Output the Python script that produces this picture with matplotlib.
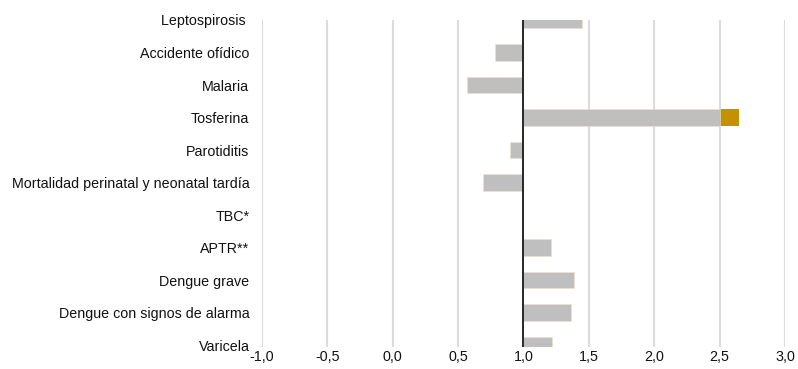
import matplotlib
matplotlib.use("Agg")
import matplotlib.pyplot as plt
from matplotlib.ticker import FuncFormatter

plt.rcParams['font.family'] = ['Liberation Sans', 'DejaVu Sans']

# Razón observado/esperado por evento
eventos = [
    "Leptospirosis ",
    "Accidente ofídico",
    "Malaria",
    "Tosferina",
    "Parotiditis",
    "Mortalidad perinatal y neonatal tardía",
    "TBC*",
    "APTR**",
    "Dengue grave",
    "Dengue con signos de alarma",
    "Varicela",
]
razon = [1.45, 0.78, 0.57, 2.65, 0.90, 0.69, 0.995, 1.21, 1.39, 1.36, 1.22]
limite_gris = 2.5   # por encima de este valor la barra se resalta
referencia = 1.0
xticks = [-1.0, -0.5, 0.0, 0.5, 1.0, 1.5, 2.0, 2.5, 3.0]

gris = "#bfbfbf"
dorado = "#c49200"
borde = "#ebe2c8"

fig = plt.figure(figsize=(7.98, 3.69), dpi=100)
ax = fig.add_axes([0.3283, 0.0588, 0.6554, 0.887])

pos = list(range(len(eventos)))
alto = 0.51

# Parte resaltada (sobre el límite)
for y, v in zip(pos, razon):
    if v > limite_gris:
        ax.barh(y, v - limite_gris, left=limite_gris, height=alto,
                color=dorado, edgecolor="none", zorder=3)

# Parte gris desde la referencia
for y, v in zip(pos, razon):
    fin = min(v, limite_gris)
    ax.barh(y, fin - referencia, left=referencia, height=alto,
            color=gris, edgecolor=borde, linewidth=0.4, zorder=3)

ax.axvline(referencia, color="#1a1a1a", linewidth=1.3, zorder=4)

ax.set_xlim(-1.0, 3.0)
ax.set_ylim(10.07, 0)
ax.set_xticks(xticks)
ax.xaxis.set_major_formatter(FuncFormatter(lambda v, p: f"{v:.1f}".replace(".", ",")))
ax.set_yticks(pos)
ax.set_yticklabels(eventos)

ax.grid(axis="x", color="#dcdcdc", linewidth=1.5, zorder=0)
ax.set_axisbelow(True)
for s in ax.spines.values():
    s.set_visible(False)
ax.tick_params(axis="both", length=0, labelsize=10.3, colors="#111111")
ax.tick_params(axis="y", pad=9)
ax.tick_params(axis="x", pad=2)

fig.savefig("out.png", dpi=100)
